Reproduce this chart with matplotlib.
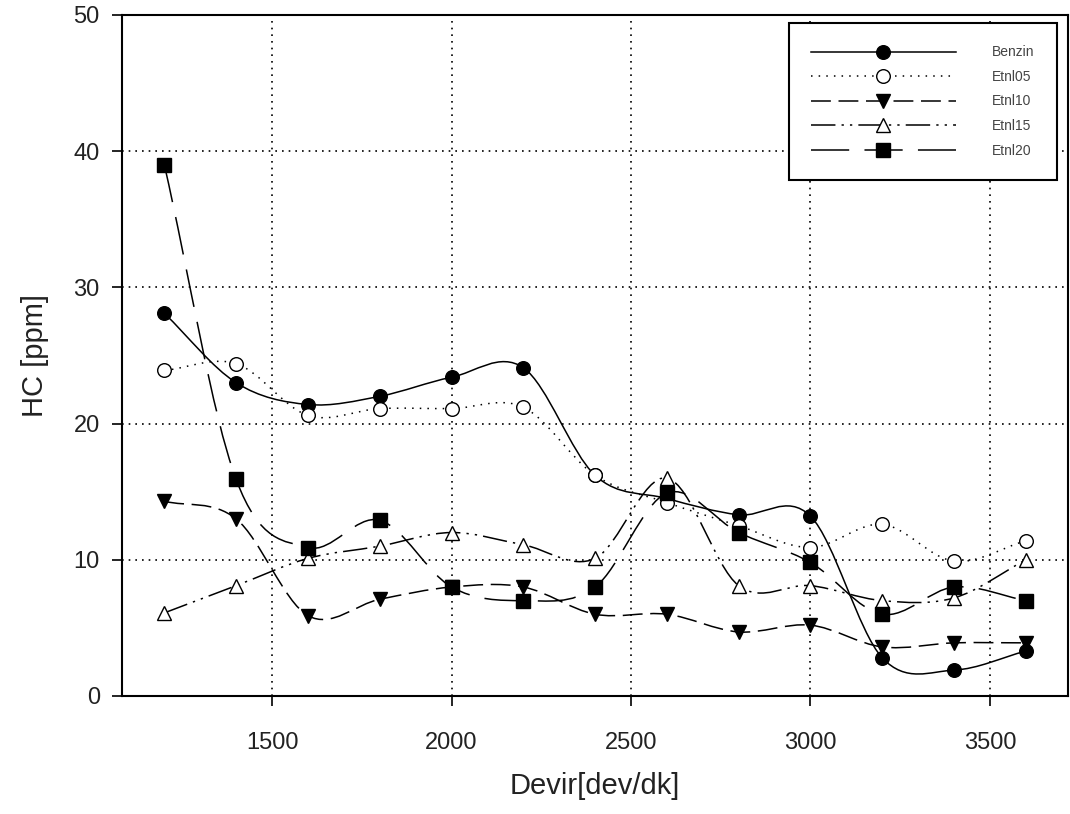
"""
HC emissions vs engine speed for gasoline and ethanol blends.
"""

import matplotlib
matplotlib.use("Agg")
import matplotlib.pyplot as plt
import numpy as np
from matplotlib.lines import Line2D
from matplotlib.patches import PathPatch
from matplotlib.path import Path

plt.rcParams["font.family"] = ["Liberation Sans", "DejaVu Sans"]

rpm = [1200, 1400, 1600, 1800, 2000, 2200, 2400, 2600, 2800, 3000, 3200, 3400, 3600]

benzin = [28.1, 23.0, 21.4, 22.0, 23.4, 24.1, 16.2, 14.5, 13.3, 13.2, 2.8, 1.9, 3.3]
etnl05 = [23.9, 24.4, 20.6, 21.1, 21.1, 21.2, 16.2, 14.2, 12.5, 10.9, 12.6, 9.9, 11.4]
etnl10 = [14.3, 13.0, 5.9, 7.1, 8.0, 8.0, 6.0, 6.0, 4.7, 5.2, 3.6, 3.9, 3.9]
etnl15 = [6.1, 8.1, 10.1, 11.0, 12.0, 11.1, 10.1, 16.0, 8.1, 8.1, 7.0, 7.2, 10.0]
etnl20 = [39.0, 15.9, 10.9, 12.9, 8.0, 7.0, 8.0, 14.9, 12.0, 9.8, 6.0, 8.0, 7.0]

labels = ["Benzin", "Etnl05", "Etnl10", "Etnl15", "Etnl20"]
series = [benzin, etnl05, etnl10, etnl15, etnl20]

styles = [
    dict(ls="-", marker="o", mfc="black"),
    dict(ls=(0, (1, 4)), marker="o", mfc="white"),
    dict(ls=(0, (13, 5)), marker="v", mfc="black"),
    dict(ls=(0, (16, 4, 1.5, 4, 1.5, 4)), marker="^", mfc="white"),
    dict(ls=(0, (25, 10)), marker="s", mfc="black"),
]


def smooth_path(x, y):
    """Catmull-Rom curve through the points, as cubic Bezier segments."""
    x = np.asarray(x, float)
    y = np.asarray(y, float)
    pts = np.column_stack([x, y])
    n = len(pts)
    tang = np.zeros_like(pts)
    tang[1:-1] = (pts[2:] - pts[:-2]) / 2
    tang[0] = pts[1] - pts[0]
    tang[-1] = pts[-1] - pts[-2]
    verts = [pts[0]]
    codes = [Path.MOVETO]
    for i in range(n - 1):
        verts += [pts[i] + tang[i] / 3, pts[i + 1] - tang[i + 1] / 3, pts[i + 1]]
        codes += [Path.CURVE4] * 3
    return Path(verts, codes)


fig = plt.figure(figsize=(10.7, 8.14), dpi=100)
ax = fig.add_axes([0.114, 0.145, 0.884, 0.8366])

handles = []
for vals, lab, st in zip(series, labels, styles):
    ax.add_patch(PathPatch(smooth_path(rpm, vals), fill=False, edgecolor="black",
                           lw=1.1, linestyle=st["ls"], zorder=3))
    ax.plot(rpm, vals, ls="none", marker=st["marker"], ms=9.8, mfc=st["mfc"],
            mec="black", mew=1.0, zorder=4)
    handles.append(Line2D([], [], color="black", lw=1.1, ls=st["ls"], marker=st["marker"],
                          ms=9.8, mfc=st["mfc"], mec="black", mew=1.0, label=lab))

ax.set_xlim(1082, 3717)
ax.set_ylim(0, 50)
ax.set_xticks([1500, 2000, 2500, 3000, 3500])
ax.set_yticks([0, 10, 20, 30, 40, 50])
ax.tick_params(direction="out", length=7, width=1.2, labelsize=17,
               labelcolor="#222222")
ax.tick_params(axis="x", pad=19)
ax.tick_params(axis="y", pad=9)
ax.grid(True, color="black", ls=(0, (1, 3)), lw=1.2)
ax.set_axisbelow(True)
for sp in ax.spines.values():
    sp.set_linewidth(1.5)

ax.set_xlabel("Devir[dev/dk]", fontsize=21, color="#222222", labelpad=13)
ax.set_ylabel("HC [ppm]", fontsize=21, color="#222222", labelpad=18)

leg = ax.legend(handles=handles, loc="upper right", bbox_to_anchor=(0.988, 0.988),
                borderaxespad=0, fontsize=10, handlelength=10.4, handletextpad=2.6,
                labelspacing=0.76, borderpad=1.6, fancybox=False, framealpha=1,
                edgecolor="black", numpoints=1)
leg.get_frame().set_linewidth(1.5)
for t in leg.get_texts():
    t.set_color("#444444")
leg.set_zorder(10)

fig.savefig("out.png", dpi=100)
